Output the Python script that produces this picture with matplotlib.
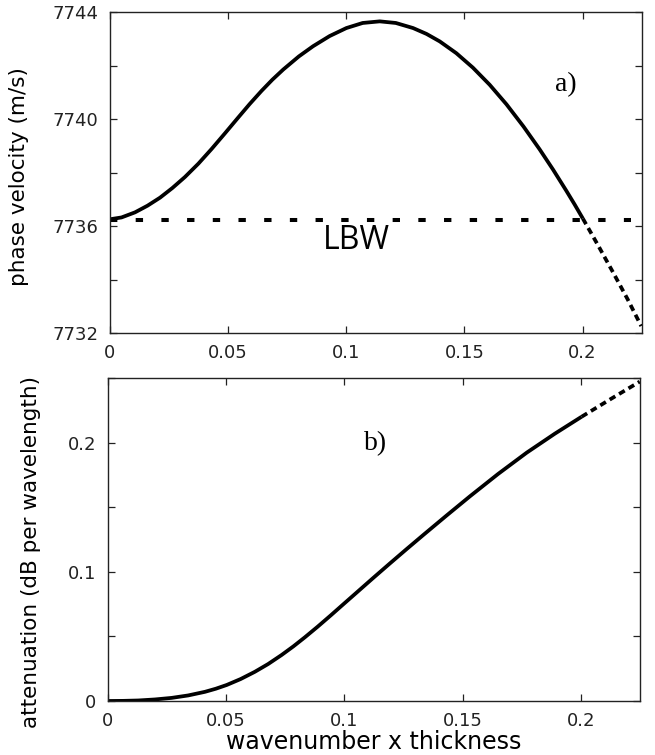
"""Phase velocity and attenuation vs wavenumber x thickness (two stacked panels)."""

import matplotlib

matplotlib.use("Agg")
import matplotlib.pyplot as plt

# panel a) phase velocity, solid part up to the LBW crossing
x_a = [0.0, 0.005, 0.0107, 0.016, 0.0213, 0.0265, 0.0318, 0.0375, 0.0431,
       0.0487, 0.0543, 0.0592, 0.0642, 0.0688, 0.0734, 0.080, 0.086, 0.093,
       0.1001, 0.107, 0.1142, 0.121, 0.1283, 0.134, 0.1396, 0.1466, 0.1536,
       0.1607, 0.1678, 0.175, 0.1818, 0.1875, 0.1931, 0.1966, 0.2001]
v_a = [7736.25, 7736.32, 7736.51, 7736.76, 7737.06, 7737.42, 7737.83, 7738.33,
       7738.88, 7739.46, 7740.05, 7740.56, 7741.05, 7741.47, 7741.85, 7742.34,
       7742.72, 7743.10, 7743.40, 7743.59, 7743.65, 7743.59, 7743.40, 7743.18,
       7742.90, 7742.46, 7741.92, 7741.28, 7740.55, 7739.72, 7738.87, 7738.11,
       7737.32, 7736.81, 7736.28]
# dashed continuation past the crossing
x_a_ext = [0.2001, 0.2064, 0.2128, 0.219, 0.2248]
v_a_ext = [7736.28, 7735.30, 7734.28, 7733.27, 7732.26]
# LBW reference velocity
lbw_x = [0.0, 0.2205]
lbw_v = [7736.22, 7736.22]

# panel b) attenuation
x_b = [0.0, 0.0065, 0.0129, 0.020, 0.027, 0.034, 0.0411, 0.0457, 0.0503,
       0.0562, 0.0622, 0.0678, 0.0735, 0.0785, 0.0834, 0.0888, 0.0943, 0.0998,
       0.1052, 0.1122, 0.1193, 0.1263, 0.1334, 0.1432, 0.1531, 0.165, 0.1771,
       0.189, 0.2003]
a_b = [0.0, 0.0001, 0.0004, 0.0012, 0.0024, 0.0043, 0.0071, 0.0095, 0.0124,
       0.0170, 0.0226, 0.0286, 0.0356, 0.0423, 0.0494, 0.0576, 0.0663, 0.0752,
       0.0839, 0.0952, 0.1065, 0.1175, 0.1285, 0.1435, 0.1584, 0.1757, 0.1922,
       0.2069, 0.2200]
x_b_ext = [0.2003, 0.2126, 0.2249]
a_b_ext = [0.2200, 0.2337, 0.2472]

x_ticks = [0, 0.05, 0.1, 0.15, 0.2]
x_ticklabels = ["0", "0.05", "0.1", "0.15", "0.2"]
v_ticks = [7732, 7734, 7736, 7738, 7740, 7742, 7744]
v_ticklabels = ["7732", "", "7736", "", "7740", "", "7744"]
a_ticks = [0, 0.05, 0.1, 0.15, 0.2, 0.25]
a_ticklabels = ["0", "", "0.1", "", "0.2", ""]

plt.rcParams["font.family"] = ["DejaVu Sans"]
plt.rcParams["lines.scale_dashes"] = False

W, H = 655, 755
fig = plt.figure(figsize=(W / 100, H / 100), dpi=100)


def px_axes(left, top, right, bottom):
    return fig.add_axes([left / W, 1 - bottom / H, (right - left) / W, (bottom - top) / H])


def style(ax):
    for s in ax.spines.values():
        s.set_linewidth(1.0)
        s.set_color("#222222")
    ax.tick_params(direction="in", length=5, width=0.9, top=True, right=True,
                   labelsize=13, pad=8, colors="#222222")
    ax.set_xlim(0, 0.225)
    ax.set_xticks(x_ticks)
    ax.set_xticklabels(x_ticklabels)


lw = 2.7
long_dash = (0, (5.3, 13.2))
short_dash = (0, (4.7, 3.2))

ax1 = px_axes(109.7, 12, 641.7, 333)
style(ax1)
ax1.plot(x_a, v_a, color="black", lw=lw, solid_capstyle="butt", solid_joinstyle="round")
ax1.plot(x_a_ext, v_a_ext, color="black", lw=lw, linestyle=short_dash)
ax1.plot(lbw_x, lbw_v, color="black", lw=2.9, linestyle=long_dash)
ax1.set_ylim(7732, 7744)
ax1.set_yticks(v_ticks)
ax1.set_yticklabels(v_ticklabels)
ax1.set_ylabel("phase velocity (m/s)", fontsize=15.5)
ax1.yaxis.set_label_coords(-0.152, 0.486)
ax1.text(0.1045, 7735.45, "LBW", fontsize=23, family="Open Sans",
         ha="center", va="center")
ax1.text(0.193, 7741.3, "a)", fontsize=20, family="Liberation Serif",
         ha="center", va="center")

ax2 = px_axes(107.7, 378, 640, 701)
style(ax2)
ax2.plot(x_b, a_b, color="black", lw=lw, solid_capstyle="butt", solid_joinstyle="round")
ax2.plot(x_b_ext, a_b_ext, color="black", lw=lw, linestyle=short_dash)
ax2.set_ylim(0, 0.25)
ax2.set_yticks(a_ticks)
ax2.set_yticklabels(a_ticklabels)
ax2.set_ylabel("attenuation (dB per wavelength)", fontsize=15.5)
ax2.yaxis.set_label_coords(-0.125, 0.46)
ax2.set_xlabel("wavenumber x thickness", fontsize=17, labelpad=0)
ax2.text(0.1134, 0.199, "b)", fontsize=20, family="Liberation Serif",
         ha="center", va="center")

fig.savefig("out.png", dpi=100)
